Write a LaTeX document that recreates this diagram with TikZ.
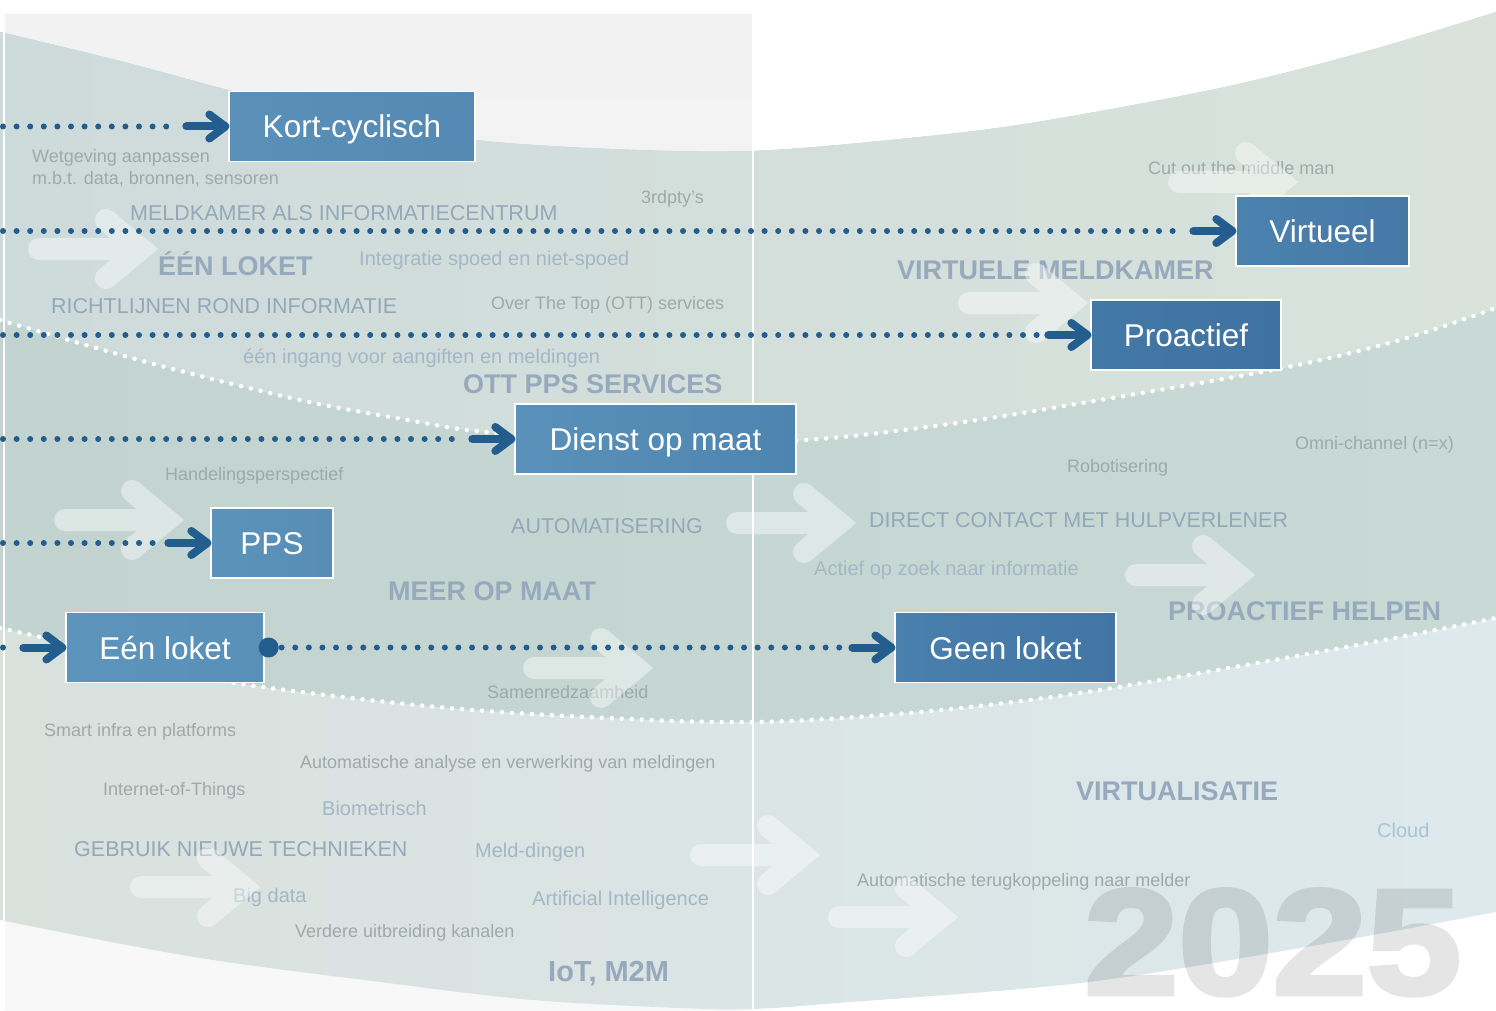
\documentclass[tikz,border=0pt]{standalone}
\usepackage{fontspec}
\setmainfont{Liberation Sans}
\newfontfamily\yearfont{Liberation Sans Bold}[FakeBold=3]
\usetikzlibrary{calc}
\definecolor{zAl}{HTML}{CEDBDB}
\definecolor{zAr}{HTML}{D9E3DC}
\definecolor{zBl}{HTML}{C3D4D0}
\definecolor{zBr}{HTML}{C9DAD6}
\definecolor{zCl}{HTML}{D9E1DD}
\definecolor{zCr}{HTML}{DDE9ED}
\definecolor{panelT}{HTML}{F2F2F2}
\definecolor{panelB}{HTML}{F8F8F8}
\definecolor{navy}{HTML}{235D8E}
\definecolor{txG}{HTML}{9EA9A9}
\definecolor{txB}{HTML}{A3B7C7}
\definecolor{txC}{HTML}{93A8B9}
\definecolor{txH}{HTML}{97AABD}
\definecolor{txCloud}{HTML}{A9C4D8}
\definecolor{kcL}{HTML}{5B90B8}\definecolor{kcR}{HTML}{5389B3}
\definecolor{viL}{HTML}{4B82AE}\definecolor{viR}{HTML}{4678A6}
\definecolor{prL}{HTML}{4379A7}\definecolor{prR}{HTML}{3F72A0}
\definecolor{diL}{HTML}{5A91BA}\definecolor{diR}{HTML}{4E85B0}
\definecolor{ppL}{HTML}{5C93BA}\definecolor{ppR}{HTML}{578DB6}
\definecolor{elL}{HTML}{5C94BB}\definecolor{elR}{HTML}{5890B8}
\definecolor{glL}{HTML}{4A80AD}\definecolor{glR}{HTML}{4275A3}
\newcommand\fsz[1]{\fontsize{#1}{#1}\selectfont}
\newcommand\headto[1]{%
  \draw[blueArr] ([xshift=-42pt]#1.west) -- ([xshift=-3pt]#1.west);
  \draw[blueArr] ([xshift=-19pt,yshift=12pt]#1.west) -- ([xshift=-3pt]#1.west) -- ([xshift=-19pt,yshift=-12pt]#1.west);}
\tikzset{
 blueDots/.style={navy, line width=6pt, line cap=round, dash pattern=on 0pt off 13.6pt},
 blueArr/.style={navy, line width=8pt, line cap=round, line join=round},
 wDots/.style={white, line width=4.5pt, line cap=round, dash pattern=on 0pt off 10pt},
 bx/.style={draw=white, line width=1.3pt, text=white, font=\fsz{31.5}, inner sep=0pt, minimum height=70pt, text height=23pt, text depth=0pt},
 lblG/.style={anchor=base west, inner sep=0pt, text=txG, font=\fsz{18}},
 lblB/.style={anchor=base west, inner sep=0pt, text=txB, font=\fsz{20}},
 lblC/.style={anchor=base west, inner sep=0pt, text=txC, font=\fsz{21.5}},
 lblH/.style={anchor=base west, inner sep=0pt, text=txH, font=\fsz{27}\bfseries},
 bigarrow/.pic={\draw[white, draw opacity=0.42, line width=22pt, line cap=round, line join=miter] (-119,0) -- (-17,0) (-52,-29) -- (-17,0) -- (-52,29);}
}
\begin{document}
\begin{tikzpicture}[x=1pt,y=-1pt]
\useasboundingbox (0,0) rectangle (1496,1011);
\fill[white] (0,0) rectangle (1496,1011);
\shade[top color=panelT, bottom color=panelB] (4,15) rectangle (752,1010);
% zone C (whole band)
\shade[left color=zCl, right color=zCr]
  plot[smooth,tension=0.55] coordinates {(0,32) (120,61) (228,90) (350,120) (475,140) (610,149) (752,151) (900,139) (1031,123) (1225,87) (1371,50) (1496,12)}
  -- plot[smooth,tension=0.55] coordinates {(1496,912) (1300,948) (1080,983) (837,1003) (752,1009) (680,1008) (533,1000) (388,983) (194,957) (0,920)} -- cycle;
% zone B
\shade[left color=zBl, right color=zBr]
  plot[smooth,tension=0.55] coordinates {(0,32) (120,61) (228,90) (350,120) (475,140) (610,149) (752,151) (900,139) (1031,123) (1225,87) (1371,50) (1496,12)}
  -- plot[smooth,tension=0.55] coordinates {(1496,618) (1400,637) (1274,660) (1080,693) (920,712) (757,722) (607,718) (437,707) (248,685) (160,667) (66,643) (0,628)} -- cycle;
% zone A
\shade[left color=zAl, right color=zAr]
  plot[smooth,tension=0.55] coordinates {(0,32) (120,61) (228,90) (350,120) (475,140) (610,149) (752,151) (900,139) (1031,123) (1225,87) (1371,50) (1496,12)}
  -- plot[smooth,tension=0.55] coordinates {(1496,308) (1400,340) (1283,368) (1100,400) (950,424) (805,440) (650,443) (485,432) (402,419) (300,400) (150,363) (0,320)} -- cycle;
% white dotted zone borders
\draw[wDots] plot[smooth,tension=0.55] coordinates {(0,320) (150,363) (300,400) (402,419) (485,432) (650,443) (805,440) (950,424) (1100,400) (1283,368) (1400,340) (1496,308)};
\draw[wDots] plot[smooth,tension=0.55] coordinates {(0,628) (66,643) (160,667) (248,685) (437,707) (607,718) (757,722) (920,712) (1080,693) (1274,660) (1400,637) (1496,618)};
% panel lines
\draw[white, line width=2pt] (753,15) -- (753,1010);
\draw[white, line width=1.5pt] (4,15) -- (4,1010);
% labels
\node[lblG] (t1) at (32,163) {Wetgeving aanpassen};
\node[lblG] (t2) at (32,185) {m.b.t. data, bronnen, sensoren};
\node[lblG] (t3) at (641,204) {3rdpty’s};
\node[lblG] (t4) at (1148,175) {Cut out the middle man};
\node[lblG] (t5) at (491,309) {Over The Top (OTT) services};
\node[lblG] (t6) at (165,480) {Handelingsperspectief};
\node[lblG] (t7) at (1295,449) {Omni-channel (n=x)};
\node[lblG] (t8) at (1067,472) {Robotisering};
\node[lblG] (t9) at (487,698) {Samenredzaamheid};
\node[lblG] (t10) at (44,736) {Smart infra en platforms};
\node[lblG] (t11) at (300,768) {Automatische analyse en verwerking van meldingen};
\node[lblG] (t12) at (103,795) {Internet-of-Things};
\node[lblG] (t13) at (295,937) {Verdere uitbreiding kanalen};
\node[lblG] (t14) at (857,886) {Automatische terugkoppeling naar melder};
\node[lblB] (b1) at (359,265) {Integratie spoed en niet-spoed};
\node[lblB] (b2) at (243,363) {één ingang voor aangiften en meldingen};
\node[lblB] (b3) at (814,575) {Actief op zoek naar informatie};
\node[lblB] (b4) at (322,815) {Biometrisch};
\node[lblB] (b5) at (475,857) {Meld-dingen};
\node[lblB] (b6) at (233,902) {Big data};
\node[lblB] (b7) at (532,905) {Artificial Intelligence};
\node[lblB, text=txCloud] (b8) at (1377,837) {Cloud};
\node[lblC] (c1) at (130,221) {MELDKAMER ALS INFORMATIECENTRUM};
\node[lblC] (c2) at (51,313) {RICHTLIJNEN ROND INFORMATIE};
\node[lblC] (c3) at (511,533) {AUTOMATISERING};
\node[lblC] (c4) at (869,527) {DIRECT CONTACT MET HULPVERLENER};
\node[lblC] (c5) at (74,856) {GEBRUIK NIEUWE TECHNIEKEN};
\node[lblH] (h1) at (158,275) {ÉÉN LOKET};
\node[lblH] (h2) at (897,279) {VIRTUELE MELDKAMER};
\node[lblH] (h3) at (463,393) {OTT PPS SERVICES};
\node[lblH] (h4) at (388,600) {MEER OP MAAT};
\node[lblH] (h5) at (1168,620) {PROACTIEF HELPEN};
\node[lblH] (h6) at (1076,800) {VIRTUALISATIE};
\node[lblH, font=\fsz{29}\bfseries] (h7) at (548,981) {IoT, M2M};
% faint white arrows
\pic at (158,249) {bigarrow};
\pic at (1298,182) {bigarrow};
\pic at (1088,303) {bigarrow};
\pic at (184,520) {bigarrow};
\pic at (856,523) {bigarrow};
\pic at (1255,575) {bigarrow};
\pic at (653,668) {bigarrow};
\pic at (260,887) {bigarrow};
\pic at (820,855) {bigarrow};
\pic at (958,917) {bigarrow};
% year
\begin{scope}[transparency group, opacity=0.1]
\node[anchor=base west, inner sep=0pt, text=black, font=\yearfont\fsz{150}] (yr) at (1084,994) {\scalebox{1.13}[1]{2025}};
\end{scope}
% boxes
\node[bx, minimum width=246pt, left color=kcL, right color=kcR] (kc) at (352,126.5) {Kort-cyclisch};
\node[bx, minimum width=173pt, left color=viL, right color=viR] (vi) at (1322.5,231) {Virtueel};
\node[bx, minimum width=190pt, left color=prL, right color=prR] (pr) at (1186,335) {Proactief};
\node[bx, minimum width=281pt, left color=diL, right color=diR] (di) at (655.5,439) {Dienst op maat};
\node[bx, minimum width=122pt, left color=ppL, right color=ppR] (pp) at (272,543) {PPS};
\node[bx, minimum width=198pt, left color=elL, right color=elR] (el) at (165,647.5) {Eén loket};
\node[bx, minimum width=221pt, left color=glL, right color=glR] (gl) at (1005.5,647.5) {Geen loket};
% row start points
\coordinate (s1) at (3,126.5);
\coordinate (s2) at (3,231);
\coordinate (s3) at (3,335);
\coordinate (s4) at (3,439);
\coordinate (s5) at (3,543);
\coordinate (s6) at (3,647.5);
% connectors
\draw[blueDots] (s1) -- ([xshift=-50pt]kc.west); \headto{kc}
\draw[blueDots] (s2) -- ([xshift=-50pt]vi.west); \headto{vi}
\draw[blueDots] (s3) -- ([xshift=-50pt]pr.west); \headto{pr}
\draw[blueDots] (s4) -- ([xshift=-50pt]di.west); \headto{di}
\draw[blueDots] (s5) -- ([xshift=-50pt]pp.west); \headto{pp}
\draw[blueDots] (s6) -- ([xshift=-50pt]el.west); \headto{el}
\node[circle, fill=navy, minimum size=20pt, inner sep=0pt] (dot) at ([xshift=4pt]el.east) {};
\draw[blueDots] ([xshift=13pt]dot.center) -- ([xshift=-50pt]gl.west); \headto{gl}
\end{tikzpicture}
\end{document}
